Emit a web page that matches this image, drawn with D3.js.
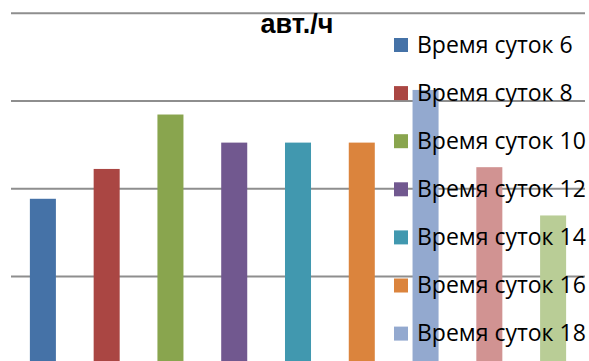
<!DOCTYPE html>
<html><head><meta charset="utf-8">
<script src="https://cdn.jsdelivr.net/npm/d3@7"></script>
<style>html,body{margin:0;padding:0;background:#fff;overflow:hidden}</style>
</head><body>
<svg id="chart" width="589" height="361"></svg>
<script>
const series = ["Время суток 6","Время суток 8","Время суток 10","Время суток 12","Время суток 14","Время суток 16","Время суток 18","Время суток 20","Время суток 22"];
const values = [188, 222, 284, 252, 252, 252, 312, 224, 169];
const colors = ["#4572A7","#AA4643","#89A54E","#71588F","#4198AF","#DB843D","#93A9CF","#D19392","#B9CD96"];
const yTicks = [0, 100, 200, 300, 400];
const title = "авт./ч";

const W = 589, H = 361;
const svg = d3.select("#chart");
const x = d3.scaleBand().domain(series).range([11, 585]).paddingInner(0.592).paddingOuter(0.296);
const y = d3.scaleLinear().domain([0, 400]).range([363.8, 12.7]);

const grid = svg.append("g").attr("transform","translate(11,0)")
  .call(d3.axisLeft(y).tickValues(yTicks).tickSize(-574).tickFormat(""));
grid.select(".domain").remove();
grid.selectAll(".tick line").attr("stroke","#8e8e8e").attr("stroke-width",2);

svg.append("g").selectAll("rect").data(series).join("rect")
  .attr("x", d => x(d)).attr("width", x.bandwidth())
  .attr("y", (d,i) => y(values[i])).attr("height", (d,i) => y(0) - y(values[i]))
  .attr("fill", (d,i) => colors[i]);

svg.append("text").attr("x", 297).attr("y", 33).attr("text-anchor","middle")
  .attr("font-family","Liberation Sans, Arial, sans-serif").attr("font-weight","bold")
  .attr("font-size", 27).attr("fill","#000").text(title);

// legend: like the source chart, entries that do not fit the chart height are dropped
const rowStep = 48.1, legTop = 38;
const legItems = series.map((d,i) => ({name:d, color:colors[i], top: legTop + i*rowStep}))
  .filter(d => d.top + 20 <= H);
const leg = svg.append("g").selectAll("g").data(legItems).join("g")
  .attr("transform", d => `translate(394,${d.top})`);
leg.append("rect").attr("width",14).attr("height",14).attr("fill",d=>d.color);
leg.append("text").attr("x",23).attr("y",14.5)
  .attr("font-family","Open Sans, Liberation Sans, Arial, sans-serif").attr("font-size",23)
  .attr("fill","#000").text(d => d.name);
</script>
</body></html>
